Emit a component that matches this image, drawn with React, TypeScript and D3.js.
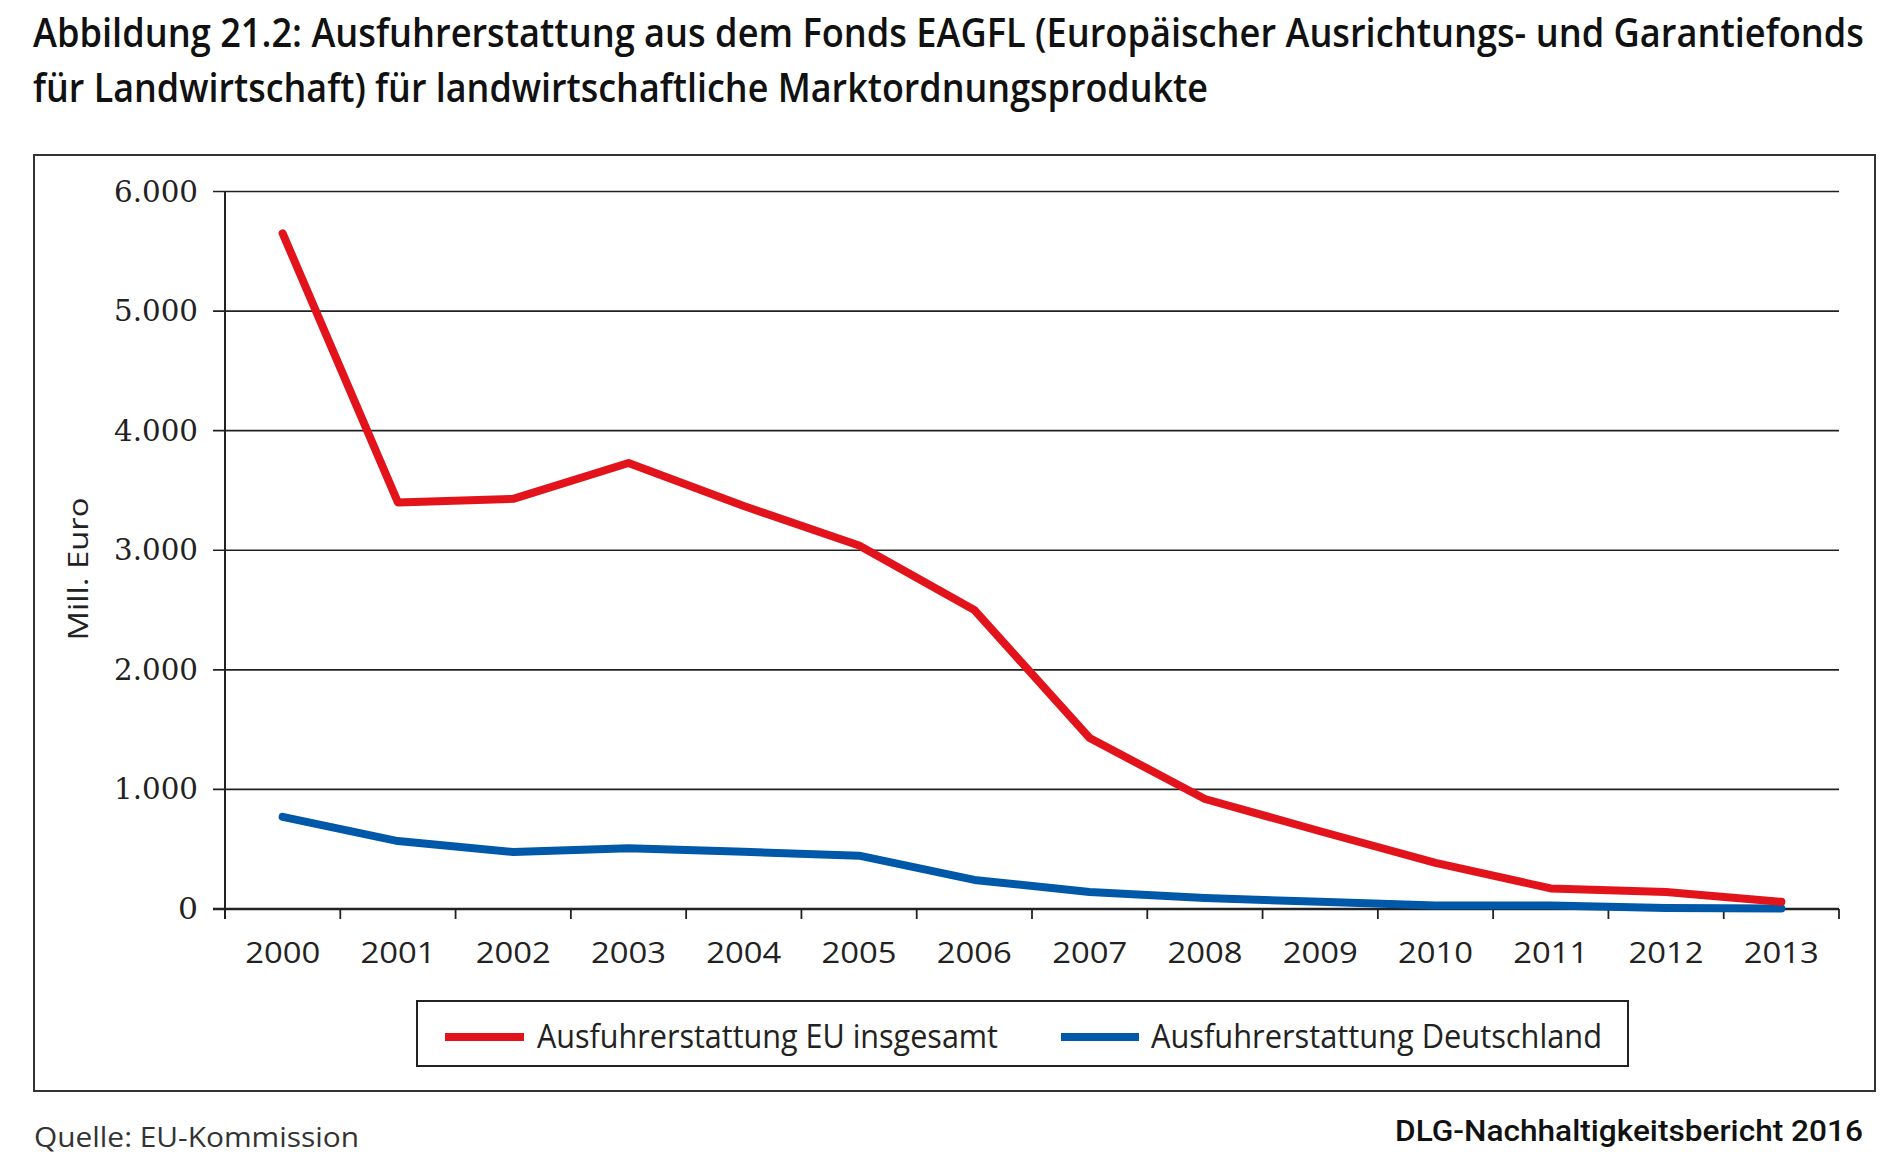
import React from "react";
import * as d3 from "d3";

const years = ["2000","2001","2002","2003","2004","2005","2006","2007","2008","2009","2010","2011","2012","2013"];
const euTotal = [5650, 3400, 3430, 3730, 3370, 3040, 2500, 1430, 920, 650, 385, 172, 142, 60];
const germany = [770, 568, 476, 507, 478, 446, 243, 142, 91, 61, 30, 30, 8, 5];
const yTicks = [0, 1000, 2000, 3000, 4000, 5000, 6000];
const seriesNames = ["Ausfuhrerstattung EU insgesamt", "Ausfuhrerstattung Deutschland"];
const titleLines = [
  "Abbildung 21.2: Ausfuhrerstattung aus dem Fonds EAGFL (Europäischer Ausrichtungs- und Garantiefonds",
  "für Landwirtschaft) für landwirtschaftliche Marktordnungsprodukte",
];
const sourceText = "Quelle: EU-Kommission";
const brandText = "DLG-Nachhaltigkeitsbericht 2016";
const yAxisTitle = "Mill. Euro";

const RED = "#e3131b";
const BLUE = "#0058a8";
const FONT = "'Open Sans', 'DejaVu Sans', sans-serif";

export default function App() {
  const W = 1900, H = 1170;
  const x0 = 225, x1 = 1839, yTop = 191.5, yBot = 909;
  const band = d3.scaleBand<string>().domain(years).range([x0, x1]);
  const xp = d3.scalePoint<string>().domain(years).range([x0, x1]).padding(0.5);
  const y = d3.scaleLinear().domain([0, 6000]).range([yBot, yTop]);
  const locale = d3.formatLocale({ decimal: ",", thousands: ".", grouping: [3], currency: ["", "€"] });
  const fmt = locale.format(",");
  const line = d3.line<number>().x((_, i) => xp(years[i]) as number).y((d) => y(d));
  const boundaries = [...years.map((yr) => band(yr) as number), x1];

  return (
    <svg width={W} height={H} style={{ position: "absolute", left: 0, top: 0, background: "#fff" }} fontFamily={FONT}>
      <rect x={0} y={0} width={W} height={H} fill="#fff" />
      {titleLines.map((t, i) => (
        <text key={i} x={33} y={47 + i * 55} fontSize={39} fontWeight={600} fill="#111"
          textLength={i === 0 ? 1831 : 1175} lengthAdjust="spacingAndGlyphs">{t}</text>
      ))}
      <rect x={34} y={155} width={1841} height={936} fill="none" stroke="#333" strokeWidth={2} />
      {yTicks.map((v) => (
        <g key={v}>
          <line x1={213} x2={x1} y1={y(v)} y2={y(v)} stroke="#222" strokeWidth={v === 0 ? 2.5 : 1.6} />
          <text x={198} y={y(v) + 10} textAnchor="end" fontSize={30} fill="#222"
            fontFamily="'DejaVu Serif', serif" textLength={v === 0 ? 20 : 84} lengthAdjust="spacingAndGlyphs">{fmt(v)}</text>
        </g>
      ))}
      <line x1={x0} x2={x0} y1={yTop} y2={yBot + 10} stroke="#222" strokeWidth={2} />
      {boundaries.map((bx, i) => (
        <line key={i} x1={bx} x2={bx} y1={yBot} y2={yBot + 10} stroke="#222" strokeWidth={1.8} />
      ))}
      {years.map((yr) => (
        <text key={yr} x={xp(yr)} y={963} textAnchor="middle" fontSize={30} fill="#222"
          textLength={75} lengthAdjust="spacingAndGlyphs">{yr}</text>
      ))}
      <text transform={`translate(88,569) rotate(-90)`} textAnchor="middle" fontSize={28} fill="#222"
        textLength={143} lengthAdjust="spacingAndGlyphs">{yAxisTitle}</text>
      <path d={line(germany) || ""} fill="none" stroke={BLUE} strokeWidth={8} strokeLinejoin="round" strokeLinecap="round" />
      <path d={line(euTotal) || ""} fill="none" stroke={RED} strokeWidth={8} strokeLinejoin="round" strokeLinecap="round" />
      <rect x={417} y={1001} width={1211} height={65} fill="#fff" stroke="#222" strokeWidth={2} />
      <line x1={445} x2={524} y1={1037} y2={1037} stroke={RED} strokeWidth={8} />
      <text x={537} y={1048} fontSize={32} fill="#222" textLength={461} lengthAdjust="spacingAndGlyphs">{seriesNames[0]}</text>
      <line x1={1061} x2={1139} y1={1037} y2={1037} stroke={BLUE} strokeWidth={8} />
      <text x={1151} y={1048} fontSize={32} fill="#222" textLength={451} lengthAdjust="spacingAndGlyphs">{seriesNames[1]}</text>
      <text x={34} y={1147} fontSize={28} fill="#333" textLength={325} lengthAdjust="spacingAndGlyphs">{sourceText}</text>
      <text x={1863} y={1141} textAnchor="end" fontSize={29} fontWeight={500} fill="#111"
        fontFamily="Roboto, 'DejaVu Sans', sans-serif" textLength={468} lengthAdjust="spacingAndGlyphs">{brandText}</text>
    </svg>
  );
}
